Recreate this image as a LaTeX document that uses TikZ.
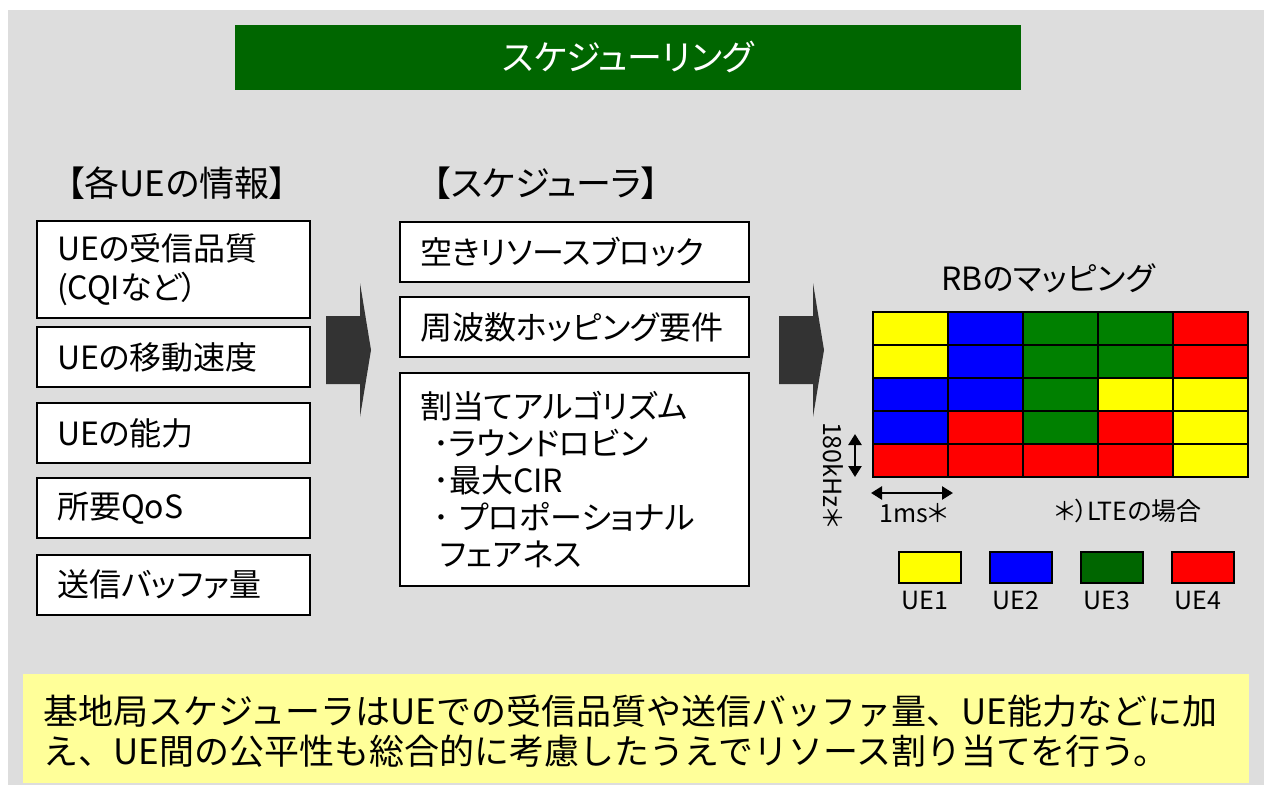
\documentclass[tikz,border=0pt]{standalone}
\usepackage{fontspec}
\setmainfont{Noto Sans CJK JP}[RawFeature=+palt]
\newfontfamily\notefamily{Noto Sans CJK JP}
\usetikzlibrary{arrows.meta}

\definecolor{bggray}{HTML}{DDDDDD}
\definecolor{titlegreen}{HTML}{006600}
\definecolor{arrowgray}{HTML}{333333}
\definecolor{notebg}{HTML}{FFFF99}
\definecolor{ueone}{HTML}{FFFF00}
\definecolor{uetwo}{HTML}{0000FF}
\definecolor{uethree}{HTML}{008000}
\definecolor{uethreedark}{HTML}{006600}
\definecolor{uefour}{HTML}{FF0000}

\newcommand{\titlefont}{\fontsize{35}{40}\selectfont}
\newcommand{\headfont}{\fontsize{35}{40}\selectfont}
\newcommand{\bigfont}{\fontsize{32}{39}\selectfont}
\newcommand{\smallfont}{\fontsize{25}{28}\selectfont}
\newcommand{\notefont}{\notefamily\fontsize{35}{40}\selectfont}

\begin{document}
\begin{tikzpicture}[x=1pt,y=-1pt,line join=miter,>={Stealth[length=11pt,width=13pt,inset=0pt]},
  every node/.style={inner sep=0pt},
  infobox/.style={draw,fill=white,line width=2pt,minimum width=273,minimum height=60,
    text width=233,inner xsep=20,align=left,font=\bigfont},
  schedbox/.style={infobox,minimum width=349,text width=309},
  legendbox/.style={draw,line width=2pt,minimum width=62,minimum height=31}]
  \useasboundingbox (0,0) rectangle (1264,785);
  \fill[bggray] (8,10) rectangle (1264,785);

  % title bar
  \node[fill=titlegreen,minimum width=786,minimum height=65,text=white,font=\titlefont] (title) at (628,57.5) {スケジューリング};

  % UE information
  \node[font=\headfont] (infohead) at (177,183) {【各UEの情報】};
  \node[infobox,minimum height=97] (quality) at (173.5,269.5) {UEの受信品質\\(CQIなど）};
  \node[infobox] (speed) at (173.5,357) {UEの移動速度};
  \node[infobox] (ability) at (173.5,433) {UEの能力};
  \node[infobox] (qos) at (173.5,508) {所要QoS};
  \node[infobox] (buffer) at (173.5,584.5) {送信バッファ量};

  % scheduler
  \node[font=\headfont] (schedhead) at (546,183) {【スケジューラ】};
  \node[schedbox] (freerb) at (574.5,252) {空きリソースブロック};
  \node[schedbox] (hopping) at (574.5,327) {周波数ホッピング要件};
  \node[schedbox,minimum height=213,font=\fontsize{32}{37}\selectfont] (algo) at (574.5,479.5)
    {割当てアルゴリズム\\
     \hspace*{13pt}･ラウンドロビン\\
     \hspace*{13pt}･最大CIR\\
     \hspace*{13pt}･\hspace{10pt}プロポーショナル\\
     \hspace*{20pt}フェアネス};

  % block arrows
  \foreach \ax in {326,779}{
    \fill[arrowgray] (\ax,316) -- (\ax+34,316) -- (\ax+34,283) -- (\ax+45,350)
      -- (\ax+34,417) -- (\ax+34,384) -- (\ax,384) -- cycle;
  }

  % RB mapping
  \node[font=\bigfont] (rbhead) at (1048,278) {RBのマッピング};
  \foreach \c [count=\i from 0] in {ueone,uetwo,uethree,uethree,uefour,%
      ueone,uetwo,uethree,uethree,uefour,%
      uetwo,uetwo,uethree,ueone,ueone,%
      uetwo,uefour,uethree,uefour,ueone,%
      uefour,uefour,uefour,uefour,ueone}{
    \pgfmathtruncatemacro{\col}{mod(\i,5)}
    \pgfmathtruncatemacro{\row}{int(\i/5)}
    \draw[fill=\c,line width=2.2pt] (873+75*\col,312+33*\row) rectangle ++(75,33);
  }
  \coordinate (khztop) at (855,434);
  \coordinate (khzbot) at (855,477);
  \coordinate (msleft) at (871,493);
  \coordinate (msright) at (953,493);
  \draw[<->,line width=2.5pt] (khztop) -- (khzbot);
  \draw[<->,line width=2.5pt] (msleft) -- (msright);
  \node[rotate=-90,font=\smallfont] (khz) at (833,475) {180kHz＊};
  \node[font=\smallfont] (ms) at (914,513) {1ms＊};
  \node[font=\smallfont] (lte) at (1128,511) {＊）LTEの場合};

  % legend
  \foreach \c/\lab [count=\k] in {ueone/UE1,uetwo/UE2,uethreedark/UE3,uefour/UE4}{
    \node[legendbox,fill=\c] (leg\k) at (930+91*\k-91,567.5) {};
    \node[font=\smallfont] (leglab\k) at (925+91*\k-91,600) {\lab};
  }

  % summary
  \node[fill=notebg,minimum width=1226,minimum height=109,anchor=north west] (note) at (23,674) {};
  \node[anchor=west,align=left,font=\notefont] (notetext) at (43,731)
    {基地局スケジューラはUEでの受信品質や送信バッファ量、UE能力などに加\\
     え、UE間の公平性も総合的に考慮したうえでリソース割り当てを行う。};
\end{tikzpicture}
\end{document}
